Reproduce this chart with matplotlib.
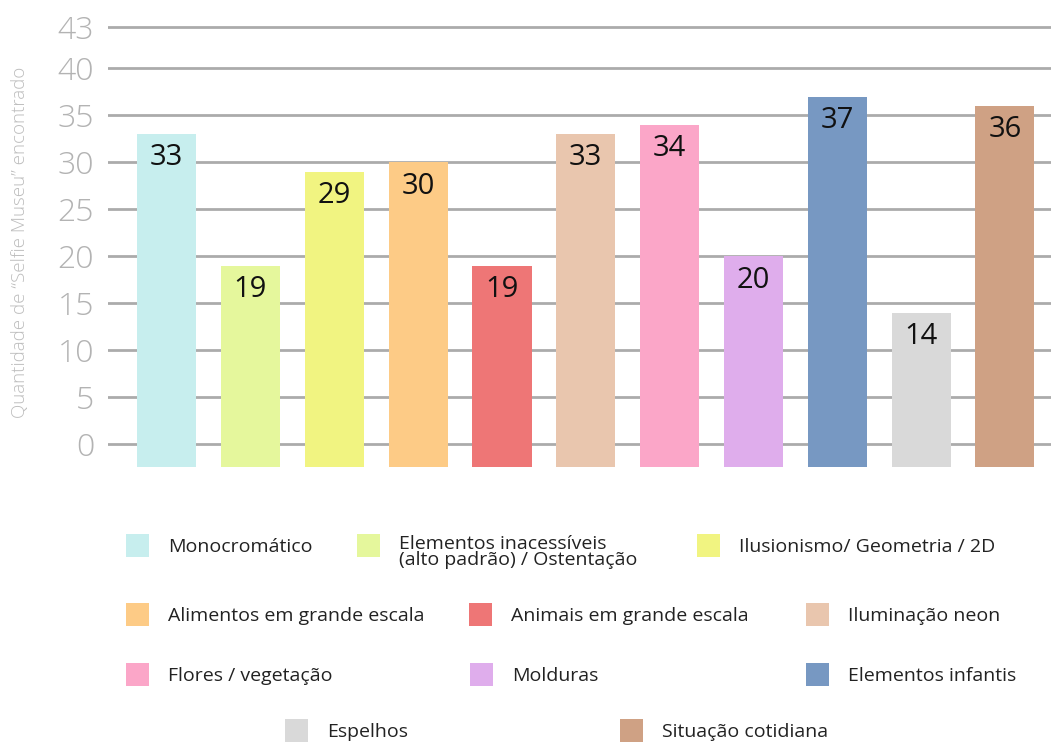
import matplotlib
matplotlib.use("Agg")
import matplotlib.pyplot as plt
from matplotlib.patches import Rectangle
import numpy as np

plt.rcParams['font.family'] = ['Open Sans', 'DejaVu Sans']

# categorias e quantidades
categorias = [
    "Monocromático",
    "Elementos inacessíveis\n(alto padrão) / Ostentação",
    "Ilusionismo/ Geometria / 2D",
    "Alimentos em grande escala",
    "Animais em grande escala",
    "Iluminação neon",
    "Flores / vegetação",
    "Molduras",
    "Elementos infantis",
    "Espelhos",
    "Situação cotidiana",
]
quantidades = [33, 19, 29, 30, 19, 33, 34, 20, 37, 14, 36]
cores = ["#c7eeee", "#e5f79c", "#f1f481", "#fdcb86", "#ee7676", "#e9c6ae",
         "#fba6c8", "#dfadec", "#7798c2", "#d9d9d9", "#cfa184"]
ytick_labels = ["0", "5", "10", "15", "20", "25", "30", "35", "40", "43"]

base = -2.4  # barras descem um pouco abaixo do zero
# a linha do topo (43) fica afastada da de 40 para os rótulos não colidirem
ytick_pos = [0, 5, 10, 15, 20, 25, 30, 35, 40, 44.4]

fig = plt.figure(figsize=(10.51, 7.42), dpi=100)
ax = fig.add_axes([108 / 1051, 1 - 467 / 742, 1 - 108 / 1051, (467 - 12) / 742])

x = np.arange(len(quantidades))
for y in ytick_pos:
    ax.axhline(y, color="#ababab", lw=2.0, zorder=0)

ax.bar(x, [q - base for q in quantidades], bottom=base, width=0.705,
       color=cores, zorder=2)

for xi, q in zip(x, quantidades):
    ax.annotate(str(q), (xi, q), xytext=(0, -17), textcoords="offset points",
                ha="center", va="center", fontsize=21, color="#111111", zorder=3)

ax.set_xlim(-0.70, 10.55)
ax.set_ylim(base, 46.0)
ax.set_yticks(ytick_pos)
ax.set_yticklabels(ytick_labels, fontsize=23, color="#b3b3b3",
                   fontweight="light")
ax.tick_params(axis="y", length=0, pad=10)
ax.set_xticks([])
for s in ax.spines.values():
    s.set_visible(False)

fig.text(20 / 1051, 1 - 242 / 742, "Quantidade de “Selfie Museu” encontrado",
         rotation=90, ha="center", va="center", fontsize=13.5, color="#bdbdbd",
         fontweight="light")

# legenda manual: (x do quadrado, y central) em pixels
pos_legenda = [(126, 546), (357, 546), (697, 546),
               (126, 615), (469, 615), (806, 615),
               (126, 675), (470, 675), (806, 675),
               (285, 731), (620, 731)]
W, H = 1051, 742
for (px, py), nome, cor in zip(pos_legenda, categorias, cores):
    fig.add_artist(Rectangle((px / W, 1 - (py + 11) / H), 23 / W, 23 / H,
                             transform=fig.transFigure, color=cor, lw=0))
    if "\n" in nome:
        fig.text((px + 42) / W, 1 - (py - 11) / H, nome, ha="left", va="top",
                 fontsize=14, color="#222222", linespacing=0.85)
    else:
        fig.text((px + 42) / W, 1 - (py + 1) / H, nome, ha="left", va="center",
                 fontsize=14, color="#222222")

fig.savefig("out.png", dpi=100, facecolor="white")
